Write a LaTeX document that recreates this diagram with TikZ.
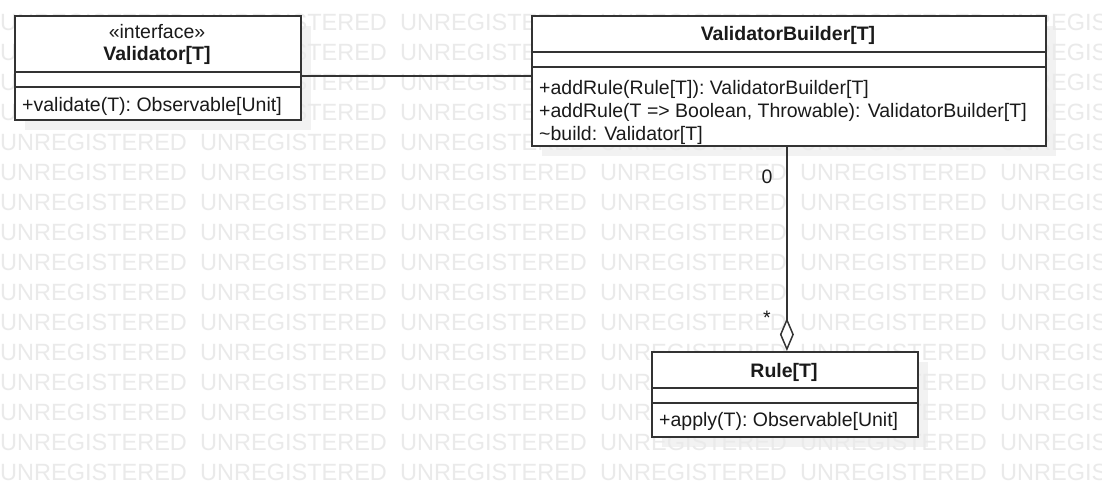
\documentclass[tikz,border=0pt]{standalone}
\usepackage{fontspec}
\setmainfont{Liberation Sans}
\usetikzlibrary{arrows.meta}
\definecolor{wm}{HTML}{EAEAEA}
\definecolor{shadowc}{HTML}{F2F2F2}
\definecolor{edge}{HTML}{333333}
\definecolor{txt}{HTML}{1A1A1A}
\tikzset{
  umlbox/.style={draw=edge, line width=1.8pt, fill=white, inner sep=0pt, anchor=north west},
  sepline/.style={draw=edge, line width=1.3pt},
  member/.style={anchor=base west, inner sep=0pt, text=txt},
  plain/.style={anchor=base, inner sep=0pt, text=txt},
  title/.style={anchor=base, inner sep=0pt, text=txt, font=\fontsize{19.5}{23.5}\selectfont\bfseries},
  conn/.style={draw=edge, line width=1.5pt},
  wmtext/.style={anchor=base west, inner sep=0pt, text=wm, font=\fontsize{23.5}{28}\selectfont},
  shadowbox/.style={fill=shadowc}
}
\begin{document}
\begin{tikzpicture}[x=1pt, y=-1pt, font=\fontsize{19.5}{23.5}\selectfont]
\useasboundingbox (0,0) rectangle (1102,496);
\fill[white] (0,0) rectangle (1102,496);
% shadows
\fill[shadowbox] (25,26) rectangle (311,130);
\fill[shadowbox] (542,26) rectangle (1056,156);
\fill[shadowbox] (662,362) rectangle (928,447);
% watermark
\begin{scope}
\clip (0,0) rectangle (1102,496);
\foreach \k in {0,...,15}{
  \foreach \j in {0,...,5}{
    \node[wmtext] (wm\k-\j) at ({200*\j},{30+30*\k}) {UNREGISTERED};
  }
}
\end{scope}
% Validator
\node[umlbox, minimum width=286pt, minimum height=104pt] (val) at (14,15) {};
\draw[sepline] (val.west |- 0,72) -- (val.east |- 0,72);
\draw[sepline] (val.west |- 0,87) -- (val.east |- 0,87);
\node[plain] (valst) at (157,38) {«interface»};
\node[title] (valname) at (157,60) {Validator[T]};
\node[member] (valm1) at (22,111.5) {+validate(T): Observable[Unit]};
% ValidatorBuilder
\node[umlbox, minimum width=514pt, minimum height=130pt] (vb) at (531,15) {};
\draw[sepline] (vb.west |- 0,52) -- (vb.east |- 0,52);
\draw[sepline] (vb.west |- 0,67) -- (vb.east |- 0,67);
\node[title] (vbname) at (788,40.5) {ValidatorBuilder[T]};
\node[member] (vbm1) at (539,94) {+addRule(Rule[T]): ValidatorBuilder[T]};
\node[member] (vbm2) at (539,117) {+addRule(T => Boolean, Throwable): ValidatorBuilder[T]};
\node[member] (vbm3) at (539,140) {\textasciitilde build: Validator[T]};
% Rule
\node[umlbox, minimum width=266pt, minimum height=85pt] (rule) at (651,351) {};
\draw[sepline] (rule.west |- 0,388) -- (rule.east |- 0,388);
\draw[sepline] (rule.west |- 0,403) -- (rule.east |- 0,403);
\node[title] (rulename) at (784,377.5) {Rule[T]};
\node[member] (rulem1) at (659,426.5) {+apply(T): Observable[Unit]};
% connectors
\draw[conn] ([yshift=-8pt]val.east) -- ([yshift=-8pt]val.east -| vb.west);
\draw[conn, -{Diamond[open, length=33pt, width=14pt, line width=1.5pt]}] ([xshift=-2pt]vb.south) -- ([xshift=-2pt]vb.south |- rule.north);
\node[plain] (mult0) at (767,183) {0};
\node[plain] (multstar) at (767,324) {*};
\end{tikzpicture}
\end{document}
